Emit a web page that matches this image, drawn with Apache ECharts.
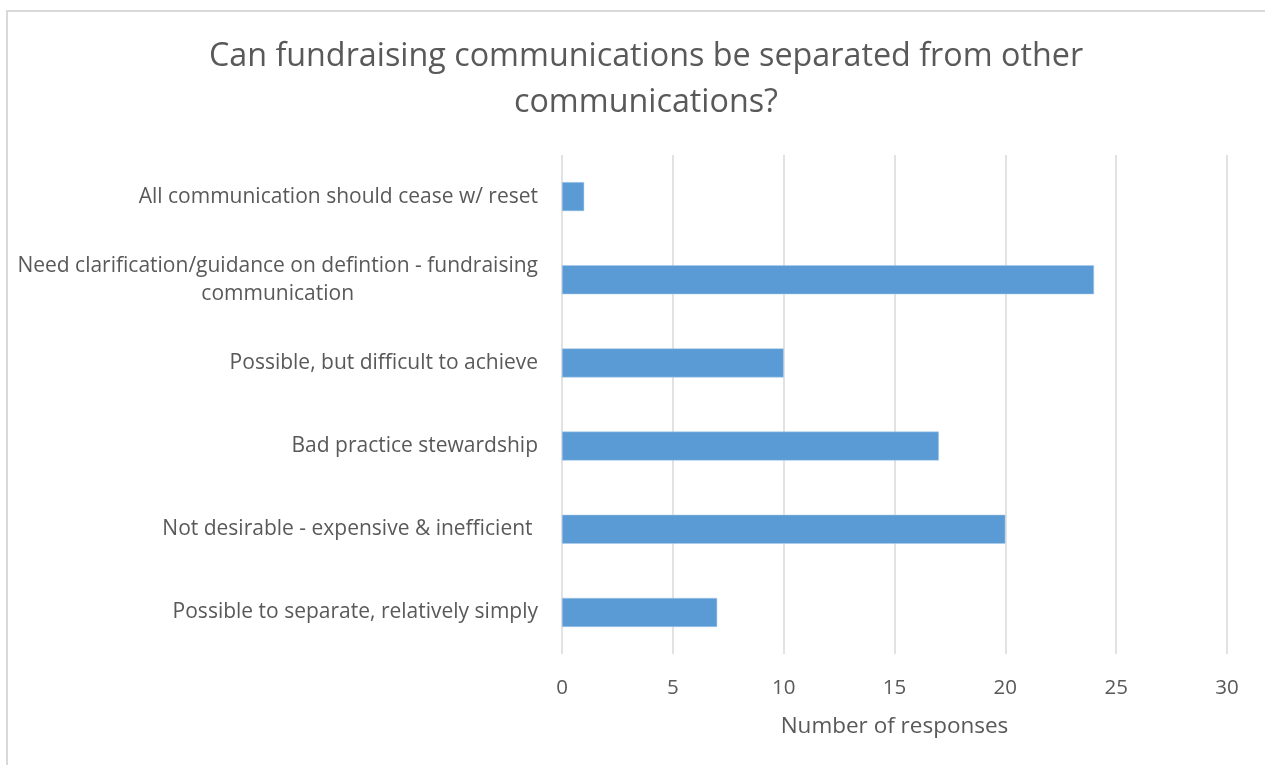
<!DOCTYPE html>
<html>
<head>
<meta charset="utf-8">
<script src="https://cdn.jsdelivr.net/npm/echarts@6/dist/echarts.min.js"></script>
<style>
  html, body { margin: 0; padding: 0; background: #fff; }
  #chart { width: 1265px; height: 765px; }
</style>
</head>
<body>
<div id="chart"></div>
<script>
// Survey answers, listed bottom to top as drawn on the category axis
const categories = [
  'Possible to separate, relatively simply',
  'Not desirable - expensive & inefficient ',
  'Bad practice stewardship',
  'Possible, but difficult to achieve',
  'Need clarification/guidance on defintion - fundraising\ncommunication',
  'All communication should cease w/ reset'
];
const responses = [7, 20, 17, 10, 24, 1];
const xTicks = { min: 0, max: 30, interval: 5 };

const titleText = 'Can fundraising communications be separated from other\ncommunications?';
const axisTitle = 'Number of responses';

const FONT = '"Open Sans", "DejaVu Sans", sans-serif';
const TEXT = '#595959';

const chart = echarts.init(document.getElementById('chart'), null, { renderer: 'canvas' });

chart.setOption({
  backgroundColor: '#ffffff',
  animation: false,
  graphic: [{
    type: 'rect',
    shape: { x: 7, y: 11, width: 1300, height: 800 },
    style: { fill: 'none', stroke: '#d9d9d9', lineWidth: 2 },
    z: -1, silent: true
  }],
  title: {
    text: titleText,
    left: 641,
    top: 29,
    padding: 5,
    textAlign: 'center',
    textStyle: {
      fontFamily: FONT, fontWeight: 'normal', fontSize: 32.3,
      color: TEXT, lineHeight: 46
    }
  },
  grid: { left: 562, right: 38, top: 155, bottom: 111, containLabel: false },
  xAxis: {
    type: 'value',
    min: xTicks.min, max: xTicks.max, interval: xTicks.interval,
    name: axisTitle,
    nameLocation: 'middle',
    nameGap: 61,
    nameTextStyle: { fontFamily: FONT, fontSize: 22.5, color: TEXT },
    axisLine: { show: false },
    axisTick: { show: false },
    axisLabel: { fontFamily: FONT, fontSize: 20.5, color: TEXT, margin: 24 },
    splitLine: { show: true, lineStyle: { color: '#d9d9d9', width: 1.5 } }
  },
  yAxis: {
    type: 'category',
    data: categories,
    axisLine: { show: false },
    axisTick: { show: false },
    axisLabel: {
      fontFamily: FONT, fontSize: 21, color: TEXT, margin: 24,
      formatter: function (v) {
        if (v.indexOf('\n') < 0) return v;
        return v.split('\n').map(function (s) { return '{c|' + s + '}'; }).join('\n');
      },
      rich: {
        c: { align: 'center', fontFamily: FONT, fontSize: 21, color: TEXT, lineHeight: 28 }
      }
    }
  },
  series: [{
    type: 'bar',
    data: responses,
    barWidth: 29,
    itemStyle: { color: '#5b9bd5', borderColor: '#a9c8ea', borderWidth: 0.5 }
  }]
});
</script>
</body>
</html>
